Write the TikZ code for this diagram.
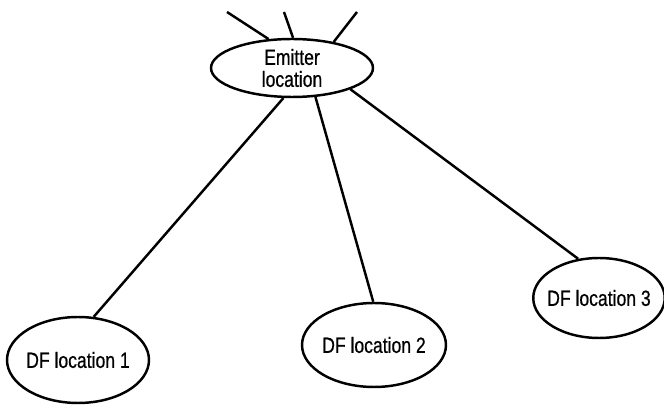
\documentclass[tikz,border=0pt]{standalone}
\usepackage{fontspec}
\setmainfont[FakeStretch=0.8, FakeBold=0.6]{Liberation Sans}
\usetikzlibrary{shapes.geometric}

\begin{document}
\begin{tikzpicture}[
  x=0.02cm, y=-0.02cm,
  every node/.style={font=\fontsize{12.5}{12.5}\selectfont},
  site/.style={draw, ellipse, line width=1.4pt, inner xsep=-3pt, inner ysep=0pt, align=center},
  link/.style={line width=1.4pt},
]
\useasboundingbox (0,0) rectangle (664,405);
\node[site, minimum width=3.24cm, minimum height=1.16cm] (emit) at (292,68) {Emitter\\location};
\node[site, minimum width=2.84cm, minimum height=1.72cm] (df1) at (78,360)  {DF location 1};
\node[site, minimum width=2.88cm, minimum height=1.68cm] (df2) at (374,345) {DF location 2};
\node[site, minimum width=2.56cm, minimum height=1.60cm] (df3) at (599,298) {DF location 3};
\coordinate (outa) at (227,12);
\coordinate (outb) at (284,12);
\coordinate (outc) at (357,12);
\draw[link] (emit.129) -- (outa);
\draw[link] (emit.88) -- (outb);
\draw[link] (emit.32) -- (outc);
\draw[link] (emit.-106) -- (df1.70);
\draw[link] (emit.-51) -- (df2.91);
\draw[link] (emit.-20) -- (df3.118);
\end{tikzpicture}
\end{document}
